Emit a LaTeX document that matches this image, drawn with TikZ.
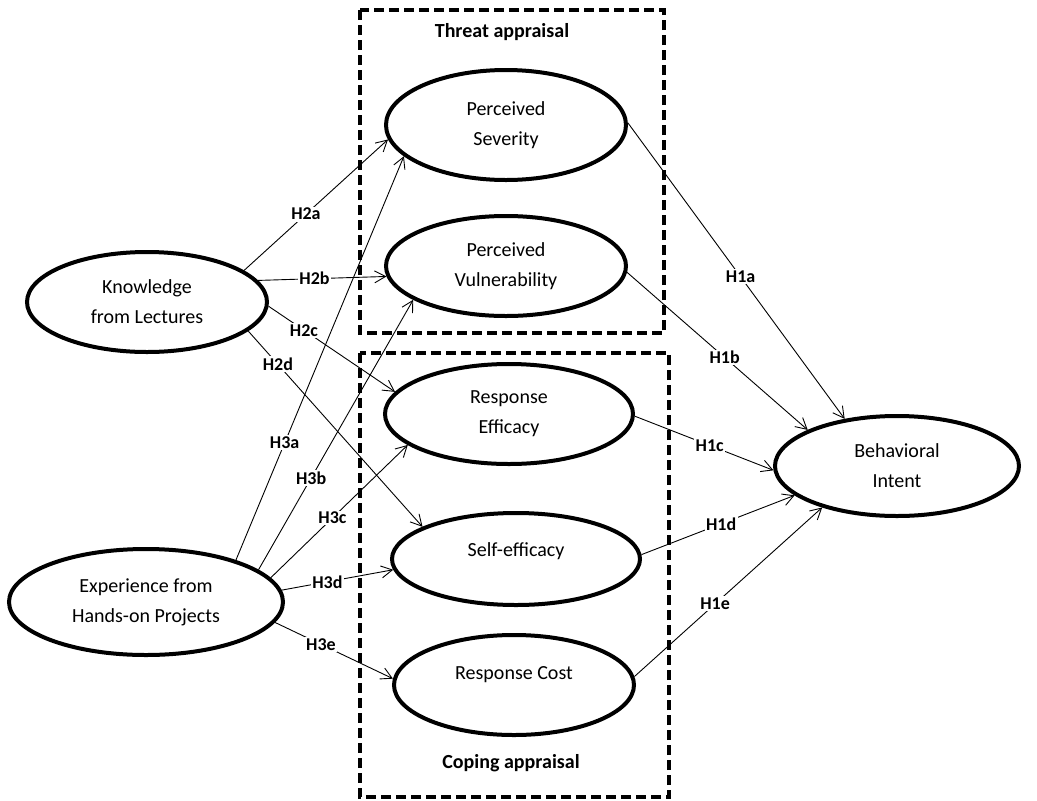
\documentclass[tikz,border=0pt]{standalone}
\usepackage{fontspec}
\setmainfont{Carlito}
\usetikzlibrary{shapes.geometric,arrows.meta}

\begin{document}
\begin{tikzpicture}[x=1pt, y=-1pt,
    every node/.style={font=\fontsize{20}{30}\selectfont},
    construct/.style={ellipse, draw, line width=4pt, align=center, inner sep=0pt},
    hyp/.style={-{Straight Barb[length=11pt,width=12pt]}, line width=0.9pt},
    lbl/.style={fill=white, inner sep=1.5pt, font=\bfseries\fontsize{18}{20}\selectfont},
    appraisal/.style={line width=4pt, dash pattern=on 10pt off 5pt}]
  \useasboundingbox (0,0) rectangle (1037,801);
  % appraisal groups
  \draw[appraisal] (360,10) rectangle (664,333);
  \draw[appraisal] (360,353) rectangle (669,797);
  \node[font=\bfseries\fontsize{20}{24}\selectfont] (threat) at (502,32) {Threat appraisal};
  \node[font=\bfseries\fontsize{20}{24}\selectfont] (coping) at (511,763) {Coping appraisal};
  % constructs
  \node[construct, minimum width=240pt, minimum height=110pt] (sev) at (506,125) {Perceived\\Severity};
  \node[construct, minimum width=240pt, minimum height=100pt] (vul) at (506,266) {Perceived\\Vulnerability};
  \node[construct, minimum width=248pt, minimum height=100pt] (reff) at (509,414) {Response\\Efficacy};
  \node[construct, minimum width=248pt, minimum height=92pt] (seff) at (516,559) {Self-efficacy\\[-12pt]\mbox{}};
  \node[construct, minimum width=240pt, minimum height=100pt] (rcost) at (514,685) {Response Cost\\[-6pt]\mbox{}};
  \node[construct, minimum width=240pt, minimum height=100pt] (know) at (147,302) {Knowledge\\from Lectures};
  \node[construct, minimum width=274pt, minimum height=106pt] (exper) at (146,602) {Experience from\\Hands-on Projects};
  \node[construct, minimum width=244pt, minimum height=100pt] (intent) at (897,466) {Behavioral\\Intent};
  % H2: lectures
  \draw[hyp] (know.18) -- node[lbl, pos=.43] {H2a} (sev.187);
  \draw[hyp] (know.11) -- node[lbl, pos=.44] {H2b} (vul.185);
  \draw[hyp] (know.-2) -- node[lbl, pos=.28] {H2c} (reff.169);
  \draw[hyp] (know.-16) -- node[lbl, pos=.17] {H2d} (seff.161);
  % H3: hands-on projects
  \draw[hyp] (exper.25) -- node[lbl, pos=.29] {H3a} (sev.197);
  \draw[hyp] (exper.16) -- node[lbl, pos=.34] {H3b} (vul.200);
  \draw[hyp] (exper.11) -- node[lbl, pos=.45] {H3c} (reff.197);
  \draw[hyp] (exper.5) -- node[lbl, pos=.41] {H3d} (seff.185);
  \draw[hyp] (exper.-9) -- node[lbl, pos=.39] {H3e} (rcost.177);
  % H1: behavioral intent
  \draw[hyp] (sev.1) -- node[lbl, pos=.52] {H1a} (intent.138);
  \draw[hyp] (vul.-3) -- node[lbl, pos=.54] {H1b} (intent.158);
  \draw[hyp] (reff.-1) -- node[lbl, pos=.54] {H1c} (intent.182);
  \draw[hyp] (seff.2) -- node[lbl, pos=.52] {H1d} (intent.196);
  \draw[hyp] (rcost.4) -- node[lbl, pos=.43] {H1e} (intent.209);
\end{tikzpicture}
\end{document}
